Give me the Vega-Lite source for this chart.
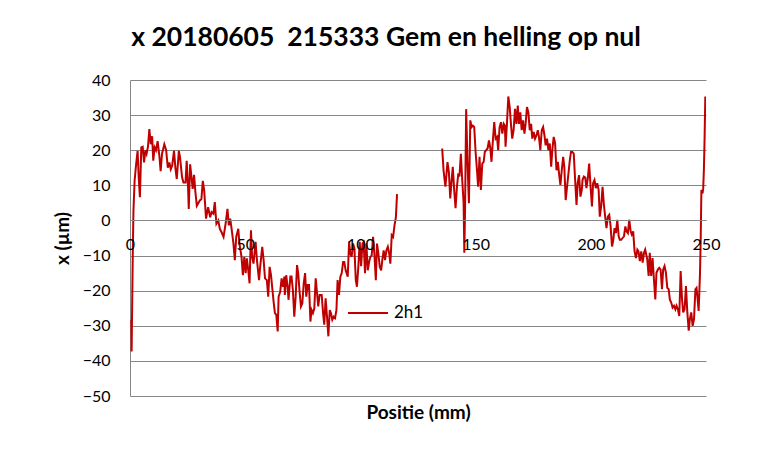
{
  "$schema": "https://vega.github.io/schema/vega-lite/v6.json",
  "width": 576,
  "height": 316,
  "autosize": {"type": "none"},
  "padding": {"left": 130, "top": 80, "right": 67, "bottom": 58},
  "background": "white",
  "title": {"text": "x 20180605 \u00a0215333 Gem en helling op nul", "font": "Lato", "fontSize": 26.5, "fontWeight": "bold", "color": "black", "anchor": "middle", "frame": "group", "dx": -32, "offset": 21},
  "config": {"view": {"stroke": null}, "font": "Lato"},
  "data": {"values": [
    {"positie": 0.6, "x": -28.3}, {"positie": 0.7, "x": -37.3}, {"positie": 1.2, "x": -10}, {"positie": 1.5, "x": 2.8},
    {"positie": 2.0, "x": 11.3}, {"positie": 2.6, "x": 15.6}, {"positie": 3.3, "x": 19.8}, {"positie": 3.8, "x": 12},
    {"positie": 4.3, "x": 6.6}, {"positie": 4.9, "x": 20.8}, {"positie": 5.5, "x": 21}, {"positie": 6.1, "x": 16.5},
    {"positie": 6.7, "x": 20}, {"positie": 7.2, "x": 19}, {"positie": 7.8, "x": 21}, {"positie": 8.4, "x": 26},
    {"positie": 9.0, "x": 21.7}, {"positie": 9.6, "x": 24}, {"positie": 10.1, "x": 17}, {"positie": 10.7, "x": 20.8},
    {"positie": 11.3, "x": 20}, {"positie": 12.0, "x": 22.6}, {"positie": 12.8, "x": 18}, {"positie": 13.3, "x": 14},
    {"positie": 13.9, "x": 19}, {"positie": 14.9, "x": 21.7}, {"positie": 15.7, "x": 20}, {"positie": 16.4, "x": 15},
    {"positie": 17.1, "x": 16.5}, {"positie": 17.7, "x": 14.6}, {"positie": 18.3, "x": 15.6}, {"positie": 19.1, "x": 19.8},
    {"positie": 19.7, "x": 15}, {"positie": 20.3, "x": 11.8}, {"positie": 21.2, "x": 19.8}, {"positie": 21.7, "x": 18},
    {"positie": 22.6, "x": 12.3}, {"positie": 23.2, "x": 10.8}, {"positie": 24.1, "x": 10.8}, {"positie": 24.6, "x": 17},
    {"positie": 25.2, "x": 9.4}, {"positie": 25.5, "x": 3.3}, {"positie": 26.1, "x": 16}, {"positie": 26.7, "x": 12.3},
    {"positie": 27.2, "x": 9}, {"positie": 27.8, "x": 13}, {"positie": 28.4, "x": 8}, {"positie": 29.0, "x": 4.2},
    {"positie": 30.3, "x": 5.7}, {"positie": 31.0, "x": 6.1}, {"positie": 31.6, "x": 11.3}, {"positie": 32.2, "x": 8.5},
    {"positie": 33.0, "x": 0.5}, {"positie": 33.9, "x": 3.8}, {"positie": 34.8, "x": 0.9}, {"positie": 35.4, "x": 2.4},
    {"positie": 36.2, "x": 1.9}, {"positie": 36.8, "x": 5.2}, {"positie": 37.5, "x": -0.9}, {"positie": 38.3, "x": 0},
    {"positie": 39.0, "x": -2.4}, {"positie": 39.7, "x": -3.3}, {"positie": 40.6, "x": -4.7}, {"positie": 41.5, "x": -0.9},
    {"positie": 42.3, "x": 3.3}, {"positie": 42.9, "x": -1.4}, {"positie": 43.5, "x": 0.5}, {"positie": 44.1, "x": -2.4},
    {"positie": 44.9, "x": -6.6}, {"positie": 45.5, "x": -11.3}, {"positie": 46.1, "x": -4.7}, {"positie": 47.0, "x": -2.4},
    {"positie": 47.5, "x": -6.6}, {"positie": 48.4, "x": -10.4}, {"positie": 49.0, "x": -15.6}, {"positie": 49.6, "x": -10.4},
    {"positie": 50.2, "x": -15}, {"positie": 50.7, "x": -10.8}, {"positie": 51.3, "x": -14}, {"positie": 51.9, "x": -17.9},
    {"positie": 52.5, "x": -2.8}, {"positie": 53.0, "x": -10.4}, {"positie": 53.6, "x": -12.3}, {"positie": 54.5, "x": -6.1},
    {"positie": 55.1, "x": -11.3}, {"positie": 56.0, "x": -17}, {"positie": 56.5, "x": -13.2}, {"positie": 57.4, "x": -7.5},
    {"positie": 58.0, "x": -11.3}, {"positie": 58.6, "x": -16.5}, {"positie": 59.4, "x": -17}, {"positie": 60.0, "x": -21.7},
    {"positie": 60.6, "x": -13.2}, {"positie": 61.2, "x": -15.6}, {"positie": 61.7, "x": -18.9}, {"positie": 62.3, "x": -23},
    {"positie": 62.9, "x": -26.4}, {"positie": 63.5, "x": -26.9}, {"positie": 64.1, "x": -31.6}, {"positie": 64.5, "x": -21.7},
    {"positie": 65.2, "x": -20.3}, {"positie": 65.8, "x": -16.5}, {"positie": 66.4, "x": -18.9}, {"positie": 67.0, "x": -16},
    {"positie": 67.2, "x": -21.2}, {"positie": 67.8, "x": -15.6}, {"positie": 68.4, "x": -18.9}, {"positie": 68.8, "x": -22.6},
    {"positie": 69.6, "x": -16}, {"positie": 70.1, "x": -16}, {"positie": 70.7, "x": -19.8}, {"positie": 71.3, "x": -27.4},
    {"positie": 71.9, "x": -21.7}, {"positie": 72.5, "x": -12.7}, {"positie": 73.0, "x": -15}, {"positie": 73.6, "x": -20.3},
    {"positie": 74.2, "x": -24.5}, {"positie": 74.8, "x": -23.6}, {"positie": 75.4, "x": -17.9}, {"positie": 76.0, "x": -15},
    {"positie": 76.5, "x": -21.7}, {"positie": 77.1, "x": -18.4}, {"positie": 77.7, "x": -18.4}, {"positie": 78.3, "x": -28.8},
    {"positie": 78.8, "x": -25.5}, {"positie": 79.4, "x": -26.4}, {"positie": 80.0, "x": -25}, {"positie": 80.6, "x": -16.5},
    {"positie": 81.2, "x": -20.8}, {"positie": 81.7, "x": -24.5}, {"positie": 82.3, "x": -21.2}, {"positie": 83.2, "x": -21.2},
    {"positie": 83.8, "x": -26.4}, {"positie": 84.3, "x": -29.7}, {"positie": 84.9, "x": -22.2}, {"positie": 85.5, "x": -27.4},
    {"positie": 86.1, "x": -33}, {"positie": 86.7, "x": -25.5}, {"positie": 87.2, "x": -26.4}, {"positie": 87.8, "x": -28.3},
    {"positie": 88.4, "x": -27.4}, {"positie": 89.0, "x": -27.8}, {"positie": 89.6, "x": -25.5}, {"positie": 90.1, "x": -17},
    {"positie": 90.7, "x": -21.2}, {"positie": 91.3, "x": -16}, {"positie": 91.9, "x": -15}, {"positie": 92.5, "x": -11.8},
    {"positie": 93.0, "x": -11.8}, {"positie": 93.6, "x": -14.2}, {"positie": 94.5, "x": -16}, {"positie": 95.1, "x": -6.1},
    {"positie": 95.6, "x": -9.4}, {"positie": 96.2, "x": -10.4}, {"positie": 96.8, "x": -6.6}, {"positie": 97.4, "x": -8},
    {"positie": 98.0, "x": -17}, {"positie": 98.5, "x": -18.9}, {"positie": 99.1, "x": -13.2}, {"positie": 99.7, "x": -6.1},
    {"positie": 100.3, "x": -13}, {"positie": 100.9, "x": -6.6}, {"positie": 101.4, "x": -6.2}, {"positie": 102.0, "x": -15},
    {"positie": 102.6, "x": -6.6}, {"positie": 103.2, "x": -14.2}, {"positie": 103.8, "x": -11.8}, {"positie": 104.3, "x": -10.4},
    {"positie": 104.9, "x": -10}, {"positie": 105.5, "x": -4.7}, {"positie": 106.1, "x": -9.9}, {"positie": 106.7, "x": -17},
    {"positie": 107.2, "x": -6.6}, {"positie": 107.8, "x": -9.4}, {"positie": 108.4, "x": -13.2}, {"positie": 109.0, "x": -14.2},
    {"positie": 109.6, "x": -10.8}, {"positie": 110.1, "x": -8.5}, {"positie": 110.7, "x": -11.3}, {"positie": 111.3, "x": -8.5},
    {"positie": 111.9, "x": -7.5}, {"positie": 112.5, "x": -9.4}, {"positie": 113.0, "x": -12.3}, {"positie": 113.6, "x": -4.2},
    {"positie": 114.2, "x": -4.7}, {"positie": 114.8, "x": -1.4}, {"positie": 115.4, "x": 0.9}, {"positie": 115.9, "x": 7.5},
    {"positie": 125.0, "x": null},
    {"positie": 135.5, "x": 20.5}, {"positie": 136.1, "x": 14.2}, {"positie": 136.9, "x": 9.6}, {"positie": 137.8, "x": 16.6},
    {"positie": 138.4, "x": 13.8}, {"positie": 139.0, "x": 6.3}, {"positie": 139.6, "x": 11.5}, {"positie": 140.1, "x": 15.3},
    {"positie": 140.7, "x": 8.7}, {"positie": 141.3, "x": 3.5}, {"positie": 141.9, "x": 9.6}, {"positie": 142.5, "x": 13.4},
    {"positie": 143.0, "x": 12.5}, {"positie": 143.6, "x": 19}, {"positie": 144.2, "x": 11.5}, {"positie": 144.8, "x": 4.9},
    {"positie": 145.1, "x": -9.2}, {"positie": 145.4, "x": 2.1}, {"positie": 145.9, "x": 31.7}, {"positie": 146.5, "x": 16.2},
    {"positie": 147.1, "x": 4.9}, {"positie": 147.7, "x": 28.5}, {"positie": 148.3, "x": 26.6}, {"positie": 148.8, "x": 27},
    {"positie": 149.4, "x": 26.6}, {"positie": 150.0, "x": 19.5}, {"positie": 150.6, "x": 14.3}, {"positie": 151.1, "x": 9.6},
    {"positie": 151.7, "x": 18.1}, {"positie": 152.3, "x": 8.7}, {"positie": 152.9, "x": 16.2}, {"positie": 153.5, "x": 16.7},
    {"positie": 154.0, "x": 19.5}, {"positie": 154.6, "x": 20}, {"positie": 155.2, "x": 20.5}, {"positie": 155.8, "x": 22.8},
    {"positie": 156.4, "x": 20.5}, {"positie": 156.9, "x": 16.7}, {"positie": 157.5, "x": 22.8}, {"positie": 158.1, "x": 28},
    {"positie": 158.7, "x": 23.3}, {"positie": 159.3, "x": 23.8}, {"positie": 159.8, "x": 20}, {"positie": 160.4, "x": 26.5},
    {"positie": 161.0, "x": 28}, {"positie": 161.6, "x": 24.7}, {"positie": 162.2, "x": 27.5}, {"positie": 162.7, "x": 27},
    {"positie": 163.0, "x": 21}, {"positie": 163.6, "x": 27.5}, {"positie": 164.2, "x": 35.3}, {"positie": 164.8, "x": 32.3},
    {"positie": 165.4, "x": 27}, {"positie": 165.9, "x": 23.3}, {"positie": 166.5, "x": 25.7}, {"positie": 167.1, "x": 31.8},
    {"positie": 167.7, "x": 27.5}, {"positie": 168.3, "x": 32.7}, {"positie": 168.8, "x": 27.5}, {"positie": 169.4, "x": 30.8},
    {"positie": 170.0, "x": 25.7}, {"positie": 170.6, "x": 28.5}, {"positie": 171.2, "x": 24.7}, {"positie": 171.7, "x": 27.5},
    {"positie": 172.3, "x": 32.3}, {"positie": 172.9, "x": 30.8}, {"positie": 173.5, "x": 25.7}, {"positie": 174.1, "x": 27.5},
    {"positie": 174.6, "x": 23.3}, {"positie": 175.2, "x": 25.2}, {"positie": 175.8, "x": 23.3}, {"positie": 176.4, "x": 24.2},
    {"positie": 177.0, "x": 25.7}, {"positie": 177.5, "x": 23.8}, {"positie": 178.1, "x": 20}, {"positie": 178.7, "x": 25.7},
    {"positie": 179.3, "x": 26.6}, {"positie": 179.9, "x": 24.2}, {"positie": 180.4, "x": 21.4}, {"positie": 181.0, "x": 23.3},
    {"positie": 181.6, "x": 20}, {"positie": 182.2, "x": 21.9}, {"positie": 182.8, "x": 15.3}, {"positie": 183.3, "x": 20},
    {"positie": 183.9, "x": 23.8}, {"positie": 184.5, "x": 22}, {"positie": 185.1, "x": 14.3}, {"positie": 185.7, "x": 16.7},
    {"positie": 186.2, "x": 13.4}, {"positie": 186.8, "x": 10.1}, {"positie": 187.4, "x": 14.3}, {"positie": 188.0, "x": 18.1},
    {"positie": 188.5, "x": 15.3}, {"positie": 189.1, "x": 5.8}, {"positie": 189.7, "x": 9.6}, {"positie": 190.3, "x": 13.4},
    {"positie": 190.9, "x": 17.2}, {"positie": 191.4, "x": 19.5}, {"positie": 192.0, "x": 19.5}, {"positie": 192.6, "x": 19},
    {"positie": 193.2, "x": 11.5}, {"positie": 193.8, "x": 4.4}, {"positie": 194.3, "x": 10.6}, {"positie": 194.9, "x": 12.9},
    {"positie": 195.5, "x": 6.8}, {"positie": 196.1, "x": 8.7}, {"positie": 196.4, "x": 11.5}, {"positie": 197.0, "x": 12.5},
    {"positie": 197.6, "x": 12.2}, {"positie": 198.1, "x": 9.2}, {"positie": 198.7, "x": 12}, {"positie": 199.3, "x": 16.2},
    {"positie": 199.9, "x": 9.6}, {"positie": 200.5, "x": 4}, {"positie": 201.0, "x": 10.6}, {"positie": 201.6, "x": 11.5},
    {"positie": 202.2, "x": 9.2}, {"positie": 202.8, "x": 10.6}, {"positie": 203.4, "x": 8.7}, {"positie": 203.9, "x": 1.1},
    {"positie": 204.5, "x": 4}, {"positie": 205.1, "x": 9.6}, {"positie": 205.7, "x": 4.4}, {"positie": 206.3, "x": 0.7},
    {"positie": 206.8, "x": -2.2}, {"positie": 207.4, "x": 1.1}, {"positie": 208.0, "x": 1.6}, {"positie": 208.6, "x": -1.7},
    {"positie": 209.2, "x": -7.4}, {"positie": 209.7, "x": -5.9}, {"positie": 210.3, "x": -2.2}, {"positie": 210.9, "x": -3.6},
    {"positie": 211.5, "x": 0.2}, {"positie": 212.1, "x": -4.5}, {"positie": 212.6, "x": -5.5}, {"positie": 213.2, "x": -5.5},
    {"positie": 213.8, "x": -5}, {"positie": 214.4, "x": -4.5}, {"positie": 215.0, "x": -1.7}, {"positie": 215.5, "x": -3.1},
    {"positie": 216.1, "x": -3.6}, {"positie": 216.7, "x": 0.2}, {"positie": 217.3, "x": -3.1}, {"positie": 217.8, "x": -4},
    {"positie": 218.4, "x": -3.1}, {"positie": 219.0, "x": -8.8}, {"positie": 219.6, "x": -10.7}, {"positie": 220.2, "x": -8.3},
    {"positie": 220.7, "x": -8.8}, {"positie": 221.3, "x": -11.6}, {"positie": 221.9, "x": -8.8}, {"positie": 222.5, "x": -12},
    {"positie": 223.1, "x": -9.2}, {"positie": 223.6, "x": -8.3}, {"positie": 224.5, "x": -11.1}, {"positie": 225.1, "x": -15.8},
    {"positie": 225.6, "x": -9.2}, {"positie": 226.2, "x": -15.8}, {"positie": 226.8, "x": -10.7}, {"positie": 227.4, "x": -16.8},
    {"positie": 228.0, "x": -22.5}, {"positie": 228.5, "x": -14.9}, {"positie": 229.1, "x": -14}, {"positie": 229.7, "x": -13.5},
    {"positie": 230.3, "x": -14}, {"positie": 230.9, "x": -19.6}, {"positie": 231.4, "x": -14}, {"positie": 232.0, "x": -13},
    {"positie": 232.6, "x": -14.9}, {"positie": 233.2, "x": -19.2}, {"positie": 233.8, "x": -19.6}, {"positie": 234.3, "x": -22.5},
    {"positie": 234.9, "x": -23.4}, {"positie": 235.5, "x": -24.8}, {"positie": 236.1, "x": -24.3}, {"positie": 236.7, "x": -25.3},
    {"positie": 237.2, "x": -24.3}, {"positie": 237.8, "x": -25.3}, {"positie": 238.4, "x": -27.2}, {"positie": 239.0, "x": -14.4},
    {"positie": 239.6, "x": -22.5}, {"positie": 240.1, "x": -26.2}, {"positie": 240.7, "x": -25.3}, {"positie": 241.3, "x": -18.7},
    {"positie": 241.9, "x": -26.2}, {"positie": 242.5, "x": -31.4}, {"positie": 243.0, "x": -28.1}, {"positie": 243.6, "x": -26.2},
    {"positie": 244.2, "x": -30}, {"positie": 244.8, "x": -28.1}, {"positie": 245.4, "x": -19.6}, {"positie": 245.9, "x": -19.2},
    {"positie": 246.5, "x": -23.4}, {"positie": 246.8, "x": -25.8}, {"positie": 247.1, "x": -20.6}, {"positie": 247.4, "x": -14.9},
    {"positie": 247.7, "x": -5.5}, {"positie": 248.0, "x": 8.7}, {"positie": 248.5, "x": 7.7}, {"positie": 248.8, "x": 9.2},
    {"positie": 249.1, "x": 14.8}, {"positie": 249.4, "x": 23.8}, {"positie": 249.7, "x": 35.3}
  ]},
  "mark": {"type": "line", "strokeWidth": 2, "invalid": "break-paths-show-domains", "clip": true},
  "encoding": {
    "x": {
      "field": "positie", "type": "quantitative",
      "scale": {"domain": [0, 250], "nice": false, "zero": false},
      "axis": {
        "values": [0, 50, 100, 150, 200, 250], "title": "Positie (mm)", "offset": -176, "grid": false, "ticks": false,
        "domainColor": "#868686", "domainWidth": 1, "labelFont": "Lato", "labelFontSize": 16, "labelColor": "black",
        "labelPadding": 16, "labelFlush": false, "labelOverlap": false,
        "titleFont": "Lato", "titleFontSize": 19, "titleFontWeight": "bold", "titleColor": "black",
        "titleY": 192, "titleBaseline": "middle", "zindex": 1
      }
    },
    "y": {
      "field": "x", "type": "quantitative",
      "scale": {"domain": [-50, 40], "nice": false, "zero": false},
      "axis": {
        "values": [-50, -40, -30, -20, -10, 0, 10, 20, 30, 40], "title": "x (µm)", "grid": true, "gridColor": "#868686",
        "gridWidth": 1, "gridOpacity": 1, "domainColor": "#868686", "ticks": false,
        "labelFont": "Lato", "labelFontSize": 16, "labelColor": "black", "labelPadding": 20, "labelFlush": false, "labelOverlap": false,
        "titleFont": "Lato", "titleFontSize": 19, "titleFontWeight": "bold", "titleColor": "black",
        "titleX": -68, "titleY": 158, "titleAngle": 270, "titleBaseline": "middle", "titleAlign": "center"
      }
    },
    "color": {
      "datum": "2h1", "type": "nominal",
      "scale": {"range": ["#C00000"]},
      "legend": {
        "orient": "none", "legendX": 217, "legendY": 212, "title": null, "symbolType": "stroke", "symbolSize": 1600,
        "symbolStrokeWidth": 2, "labelFont": "Lato", "labelFontSize": 17, "labelColor": "black", "labelOffset": 5
      }
    }
  }
}
